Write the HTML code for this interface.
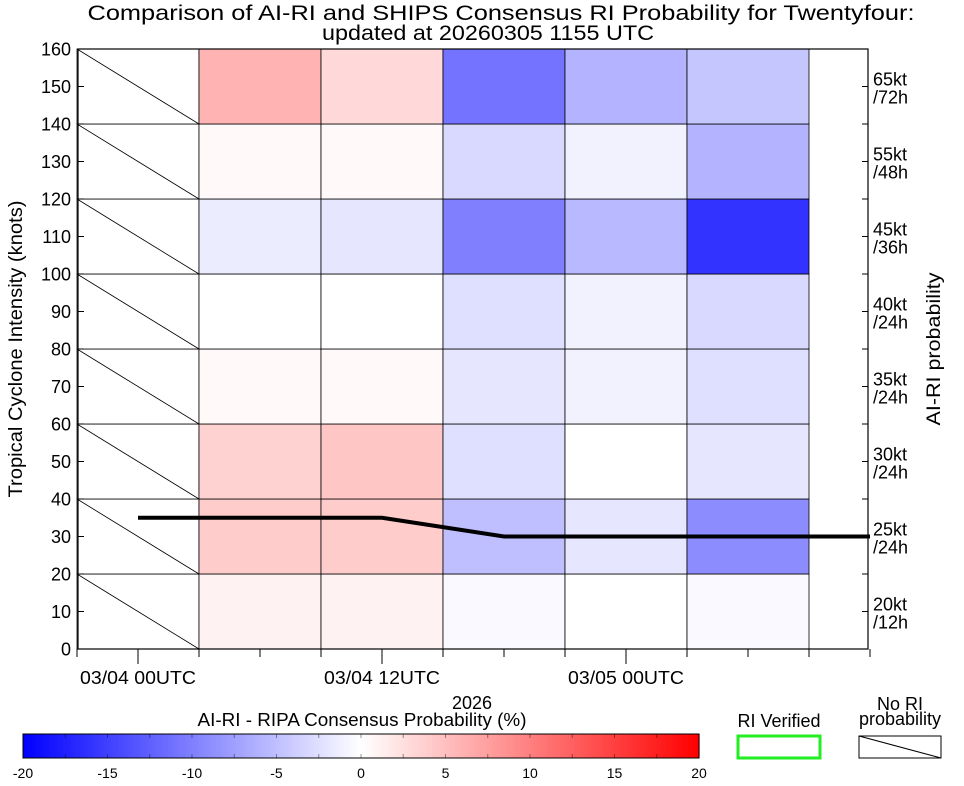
<!DOCTYPE html>
<html><head><meta charset="utf-8"><style>
body{margin:0;background:#fff;}
svg{display:block;font-family:"Liberation Sans",sans-serif;}
</style></head><body>
<svg id="chart" width="964" height="786" viewBox="0 0 964 786">
<text x="501" y="20" font-size="21" text-anchor="middle" textLength="827" lengthAdjust="spacingAndGlyphs">Comparison of AI-RI and SHIPS Consensus RI Probability for Twentyfour:</text>
<text x="488" y="40" font-size="21" text-anchor="middle" textLength="332" lengthAdjust="spacingAndGlyphs">updated at 20260305 1155 UTC</text>
<g id="cells"></g>
<g id="grid"></g>
<g id="axes"></g>
<text transform="translate(22,349) rotate(-90)" font-size="19" text-anchor="middle" textLength="297" lengthAdjust="spacingAndGlyphs">Tropical Cyclone Intensity (knots)</text>
<text transform="translate(940,349) rotate(-90)" font-size="19" text-anchor="middle" textLength="153" lengthAdjust="spacingAndGlyphs">AI-RI probability</text>
<text x="472" y="709" font-size="18" text-anchor="middle">2026</text>
<text x="362" y="726" font-size="18" text-anchor="middle" textLength="329" lengthAdjust="spacingAndGlyphs">AI-RI - RIPA Consensus Probability (%)</text>
<g id="cbar"></g>
<text x="779" y="727" font-size="18" text-anchor="middle">RI Verified</text>
<rect x="738" y="736" width="82" height="22" fill="none" stroke="#22ee22" stroke-width="3"/>
<text x="900" y="710" font-size="18" text-anchor="middle">No RI</text>
<text x="900" y="725" font-size="18" text-anchor="middle">probability</text>
<rect x="859" y="736" width="82" height="22" fill="#fff" stroke="#000" stroke-width="1"/>
<line x1="859" y1="736" x2="941" y2="758" stroke="#000"/>
</svg>
<script>
const leadHours = [0, 6, 12, 18, 24, 30];
const rowLabels = [["20kt","/12h"],["25kt","/24h"],["30kt","/24h"],["35kt","/24h"],["40kt","/24h"],["45kt","/36h"],["55kt","/48h"],["65kt","/72h"]];
// rows bottom (0-20) to top (140-160); null = no RI probability
const diffRow0 = [null, 1, 1, -0.5, 0, -0.5];
const diffRow1 = [null, 4, 4, -5, -2, -9];
const diffRow2 = [null, 3.5, 4.5, -2.5, 0, -2];
const diffRow3 = [null, 0.5, 0.5, -2, -1, -2.5];
const diffRow4 = [null, 0, 0, -2.5, -1, -3];
const diffRow5 = [null, -1.5, -2, -10, -5.5, -16];
const diffRow6 = [null, 0.5, 0.5, -3, -1, -6];
const diffRow7 = [null, 6, 3, -11, -6, -4.5];
const lineHours = [0, 12, 18, 36];
const lineKnots = [35, 35, 30, 30];
const yTicks = [0,10,20,30,40,50,60,70,80,90,100,110,120,130,140,150,160];
const xMajorHours = [0, 12, 24];
const xMajorLabels = ["03/04 00UTC","03/04 12UTC","03/05 00UTC"];
const cbTicks = [-20,-15,-10,-5,0,5,10,15,20];

const NS="http://www.w3.org/2000/svg";
const X0=78, X1=868, Y0=649, Y1=49;
const xS=h=>138+h*(244/12);
const yS=k=>Y0-(k/160)*(Y0-Y1);
function color(v){const f=Math.min(1,Math.abs(v)/20);const c=Math.round(255*(1-f));return v>=0?`rgb(255,${c},${c})`:`rgb(${c},${c},255)`;}
function mk(tag,attrs,parent){const e=document.createElementNS(NS,tag);for(const k in attrs)e.setAttribute(k,attrs[k]);parent.appendChild(e);return e;}
const cells=document.getElementById('cells'),grid=document.getElementById('grid'),axes=document.getElementById('axes'),cbar=document.getElementById('cbar');
const rows=[diffRow0,diffRow1,diffRow2,diffRow3,diffRow4,diffRow5,diffRow6,diffRow7];
mk('rect',{x:X0,y:Y1,width:X1-X0,height:Y0-Y1,fill:'#fff'},cells);
rows.forEach((row,r)=>{
  const yt=yS((r+1)*20), yb=yS(r*20);
  row.forEach((v,c)=>{
    const xl=xS(leadHours[c]-3), xr=xS(leadHours[c]+3);
    const rect=mk('rect',{x:xl,y:yt,width:xr-xl,height:yb-yt,fill:v===null?'#fff':color(v),stroke:'#000','stroke-width':0.8},cells);
    
    
    if(v===null){const l=mk('line',{x1:xl,y1:yt,x2:xr,y2:yb,stroke:'#000','stroke-width':0.8},cells);
      
      }
  });
  const t1=mk('text',{x:873,y:(yt+yb)/2-1,'font-size':18},grid);t1.textContent=rowLabels[r][0];
  
  
  const t2=mk('text',{x:873,y:(yt+yb)/2+17,'font-size':18},grid);t2.textContent=rowLabels[r][1];
  
  
});
const pts=lineHours.map((h,i)=>xS(h)+','+yS(lineKnots[i])).join(' ');
const pl=mk('polyline',{points:pts,fill:'none',stroke:'#000','stroke-width':4},grid);


mk('rect',{x:X0,y:Y1,width:X1-X0,height:Y0-Y1,fill:'none',stroke:'#000','stroke-width':1.2},axes);
yTicks.forEach(k=>{
  mk('line',{x1:X0,y1:yS(k),x2:X0+6,y2:yS(k),stroke:'#000'},axes);
  mk('line',{x1:X1,y1:yS(k),x2:X1-6,y2:yS(k),stroke:'#000'},axes);
  const t=mk('text',{x:X0-7,y:yS(k)+6.5,'font-size':18,'text-anchor':'end'},axes);t.textContent=k;
  
  
});
for(let h=-3;h<=36;h+=3){const x=xS(h);const major=xMajorHours.includes(h);
  mk('line',{x1:x,y1:Y0,x2:x,y2:Y0+(major?15:8),stroke:'#000'},axes);}
xMajorHours.forEach((h,i)=>{const t=mk('text',{x:xS(h),y:684,'font-size':18,'text-anchor':'middle',textLength:116,lengthAdjust:'spacingAndGlyphs'},axes);t.textContent=xMajorLabels[i];
  
  });
const CB0=23,CB1=699,cy=734,ch=24;
const cbx=v=>CB0+(v+20)/40*(CB1-CB0);
for(let i=0;i<200;i++){const v=-20+i*0.2;mk('rect',{x:cbx(v),y:cy,width:(CB1-CB0)/200+0.6,height:ch,fill:color(v+0.1)},cbar);}
mk('rect',{x:CB0,y:cy,width:CB1-CB0,height:ch,fill:'none',stroke:'#000'},cbar);
for(let v=-20;v<=20;v+=2.5){mk('line',{x1:cbx(v),y1:cy,x2:cbx(v),y2:cy+4,stroke:'#000','stroke-opacity':0.4},cbar);
  mk('line',{x1:cbx(v),y1:cy+ch,x2:cbx(v),y2:cy+ch-4,stroke:'#000','stroke-opacity':0.4},cbar);}
cbTicks.forEach(v=>{const t=mk('text',{x:cbx(v),y:778,'font-size':14,'text-anchor':'middle'},cbar);t.textContent=v;
  
  });
</script>
</body></html>
